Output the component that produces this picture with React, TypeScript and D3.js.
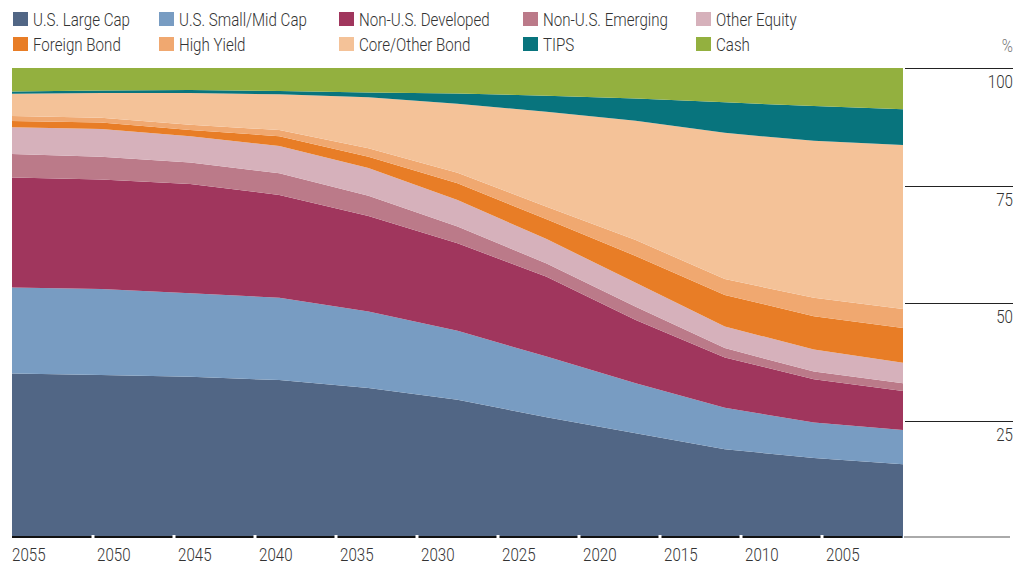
import React from 'react';
import * as d3 from 'd3';

// glide path, one point per fund, left (far-dated) to right (near-dated)
const largeCap = [35.0, 34.7, 34.3, 33.6, 31.9, 29.4, 25.7, 22.3, 18.9, 17.0, 15.7];
const smallMidCap = [18.3, 18.3, 17.8, 17.5, 16.3, 14.7, 12.9, 10.6, 8.8, 7.6, 7.3];
const nonUSDeveloped = [23.4, 23.3, 23.2, 21.9, 20.3, 18.6, 17.0, 13.5, 10.7, 9.2, 8.3];
const nonUSEmerging = [5.0, 4.8, 4.6, 4.6, 4.3, 3.6, 2.8, 2.8, 2.0, 1.6, 1.6];
const otherEquity = [5.7, 5.9, 5.6, 5.8, 5.9, 5.6, 5.2, 5.1, 4.6, 4.7, 4.4];
const foreignBond = [1.3, 1.4, 1.3, 2.1, 2.4, 3.6, 4.2, 5.7, 6.7, 7.1, 7.4];
const highYield = [1.1, 1.0, 1.1, 1.3, 1.8, 2.2, 2.7, 3.4, 3.4, 3.9, 4.0];
const coreBond = [4.7, 5.3, 6.8, 7.6, 10.9, 14.7, 20.2, 25.4, 31.1, 33.4, 34.9];
const tips = [0.5, 0.5, 0.6, 0.7, 1.0, 2.2, 3.4, 4.7, 6.5, 7.4, 7.6];
const cash = [5.0, 4.8, 4.7, 4.9, 5.2, 5.4, 5.9, 6.5, 7.3, 8.1, 8.8];

const seriesNames = [
  'U.S. Large Cap', 'U.S. Small/Mid Cap', 'Non-U.S. Developed', 'Non-U.S. Emerging', 'Other Equity',
  'Foreign Bond', 'High Yield', 'Core/Other Bond', 'TIPS', 'Cash',
];
const seriesValues = [largeCap, smallMidCap, nonUSDeveloped, nonUSEmerging, otherEquity, foreignBond, highYield, coreBond, tips, cash];
const colors = ['#516685', '#789cc2', '#a0365d', '#bb7a89', '#d6b1bb', '#e87d26', '#f0a870', '#f4c298', '#08747d', '#93b03f'];

const yearLabels = ['2055', '2050', '2045', '2040', '2035', '2030', '2025', '2020', '2015', '2010', '2005'];
const yTicks = [25, 50, 75, 100];

// no condensed face installed, so Roboto squeezed horizontally
const FONT = 'Roboto, sans-serif';
const SQUEEZE = 0.84;

const App: React.FC = () => {
  const ref = React.useRef<SVGSVGElement>(null);

  React.useEffect(() => {
    const width = 1026;
    const height = 564;
    const left = 12;
    const right = 903;
    const top = 68;
    const bottom = 538;

    const svg = d3.select(ref.current);
    svg.selectAll('*').remove();
    svg.attr('width', width).attr('height', height);

    const rows = largeCap.map((_, i) => {
      const r: Record<string, number> = { i };
      seriesNames.forEach((n, k) => (r[n] = seriesValues[k][i]));
      return r;
    });

    const x = d3.scaleLinear().domain([0, largeCap.length - 1]).range([left, right]);
    const y = d3.scaleLinear().domain([0, 100]).range([bottom, top]);
    const band = d3.scaleBand<string>().domain(yearLabels).range([left, right]);

    const stacked = d3.stack<Record<string, number>>().keys(seriesNames)(rows);
    const area = d3
      .area<d3.SeriesPoint<Record<string, number>>>()
      .x((d) => x(d.data.i))
      .y0((d) => y(d[0]))
      .y1((d) => y(d[1]));

    svg
      .append('g')
      .selectAll('path')
      .data(stacked)
      .enter()
      .append('path')
      .attr('fill', (_, k) => colors[k])
      .attr('d', area);

    const label = (g: d3.Selection<any, any, any, any>) =>
      g
        .attr('fill', '#333')
        .style('font-family', FONT)
        .style('font-weight', 300)
        .style('font-size', '18px');

    // baseline with gaps at the tick boundaries
    svg
      .append('line')
      .attr('x1', left)
      .attr('x2', right - 1)
      .attr('y1', bottom - 1)
      .attr('y2', bottom - 1)
      .attr('stroke', '#111')
      .attr('stroke-width', 2);
    svg
      .append('line')
      .attr('x1', right + 1)
      .attr('x2', 1010)
      .attr('y1', bottom - 1)
      .attr('y2', bottom - 1)
      .attr('stroke', '#aaa')
      .attr('stroke-width', 2);
    svg
      .append('g')
      .selectAll('rect')
      .data(yearLabels.slice(1))
      .enter()
      .append('rect')
      .attr('x', (d) => (band(d) as number) - 1.5)
      .attr('y', bottom - 3)
      .attr('width', 3)
      .attr('height', 4)
      .attr('fill', '#fff');

    svg
      .append('g')
      .selectAll('text')
      .data(yearLabels)
      .enter()
      .append('text')
      .attr('transform', (d, k) => `translate(${(band(d) as number) + (k === 0 ? 0 : 4)},561) scale(${SQUEEZE},1)`)
      .call(label)
      .text((d) => d);

    // right-hand value axis
    const yAxis = svg.append('g');
    yAxis
      .selectAll('line')
      .data(yTicks)
      .enter()
      .append('line')
      .attr('x1', 905)
      .attr('x2', 1013)
      .attr('y1', (d) => Math.round(y(d)) + 0.5)
      .attr('y2', (d) => Math.round(y(d)) + 0.5)
      .attr('stroke', '#222')
      .attr('stroke-width', 1);
    yAxis
      .selectAll('text')
      .data(yTicks)
      .enter()
      .append('text')
      .attr('transform', (d) => `translate(1013,${y(d) + 20}) scale(${SQUEEZE},1)`)
      .attr('text-anchor', 'end')
      .call(label)
      .text((d) => String(d));
    svg
      .append('text')
      .attr('transform', `translate(1013,52) scale(${SQUEEZE},1)`)
      .attr('text-anchor', 'end')
      .call(label)
      .attr('fill', '#777')
      .text('%');

    // legend, two rows of five
    const colX = [13, 159, 339, 523, 696];
    const rowY = [12, 37];
    const legend = svg
      .append('g')
      .selectAll('g')
      .data(seriesNames)
      .enter()
      .append('g')
      .attr('transform', (_, k) => `translate(${colX[k % 5]},${rowY[Math.floor(k / 5)]})`);
    legend
      .append('rect')
      .attr('width', 15)
      .attr('height', 14)
      .attr('fill', (_, k) => colors[k]);
    legend
      .append('text')
      .attr('transform', `translate(20,14) scale(${SQUEEZE},1)`)
      .call(label)
      .text((d) => d);
  }, []);

  return <svg ref={ref} style={{ position: 'absolute', left: 0, top: 0 }}></svg>;
};

export default App;
